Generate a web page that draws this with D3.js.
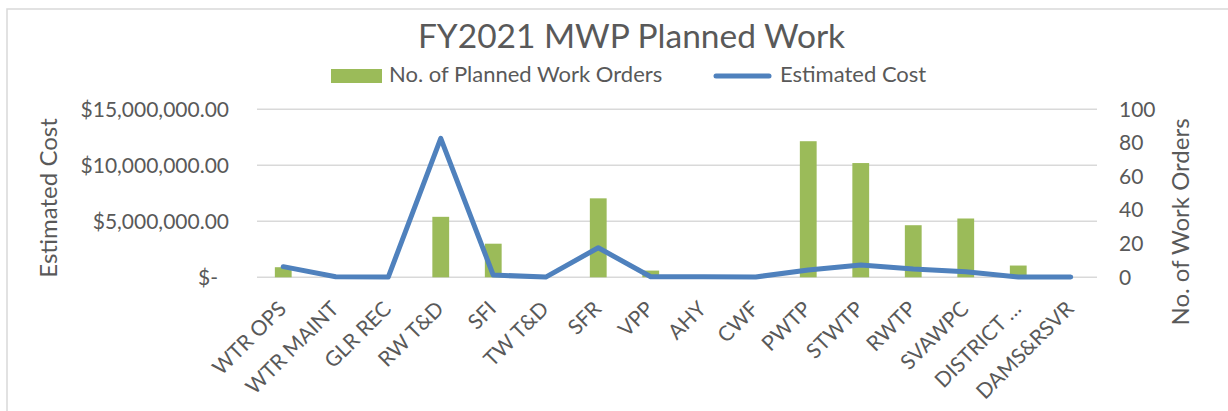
<!DOCTYPE html>
<html>
<head>
<meta charset="utf-8">
<script src="https://cdn.jsdelivr.net/npm/d3@7"></script>
<style>
  body { margin: 0; background: #fff; }
  svg text { font-family: Lato, "Open Sans", sans-serif; fill: #595959; }
</style>
</head>
<body>
<div id="chart"></div>
<script>
// ── Data ──────────────────────────────────────────────────────────────────
const categories = ['WTR OPS', 'WTR MAINT', 'GLR REC', 'RW T&D', 'SFI', 'TW T&D', 'SFR', 'VPP',
  'AHY', 'CWF', 'PWTP', 'STWTP', 'RWTP', 'SVAWPC', 'DISTRICT …', 'DAMS&RSVR'];
const workOrders = [6, 0, 0, 36, 20, 0, 47, 4, 0, 0, 81, 68, 31, 35, 7, 0];
const estCost = [950000, 50000, 20000, 12400000, 200000, 20000, 2640000, 50000,
  50000, 30000, 650000, 1100000, 740000, 500000, 30000, 20000];
const costTicks = [0, 5000000, 10000000, 15000000];
const countTicks = [0, 20, 40, 60, 80, 100];

const W = 1228, H = 411;
const GREEN = '#9bbb59', BLUE = '#4f81bd', GRID = '#d9d9d9';
const P = { left: 257, right: 1097, top: 109.3, bottom: 277.3 };

const svg = d3.select('#chart').append('svg').attr('width', W).attr('height', H);

// chart frame (runs off the right and bottom edges)
svg.append('rect')
  .attr('x', 7).attr('y', 9).attr('width', W + 20).attr('height', H + 20)
  .attr('fill', '#fff').attr('stroke', GRID).attr('stroke-width', 1.5);

// ── Scales ────────────────────────────────────────────────────────────────
const x = d3.scaleBand().domain(categories)
  .range([P.left, P.right]).paddingInner(0.68).paddingOuter(0.34);
const yCost = d3.scaleLinear().domain([0, 15000000]).range([P.bottom, P.top]);
const yCount = d3.scaleLinear().domain([0, 100]).range([P.bottom, P.top]);
const cx = c => x(c) + x.bandwidth() / 2;

// ── Grid lines ────────────────────────────────────────────────────────────
svg.append('g')
  .selectAll('line').data(costTicks).join('line')
  .attr('x1', P.left).attr('x2', P.right)
  .attr('y1', d => yCost(d)).attr('y2', d => yCost(d))
  .attr('stroke', GRID).attr('stroke-width', 1.5);

// ── Axes ──────────────────────────────────────────────────────────────────
const money = d3.format('$,.2f');
const left = svg.append('g').attr('transform', `translate(${P.left},0)`)
  .call(d3.axisLeft(yCost).tickValues(costTicks).tickSize(0).tickPadding(28)
    .tickFormat(d => d === 0 ? '$-' : money(d)));
left.select('.domain').remove();
left.selectAll('text').attr('font-size', 21).attr('font-family', null)
  .attr('dx', d => d === 0 ? -11 : 0);

const right = svg.append('g').attr('transform', `translate(${P.right},0)`)
  .call(d3.axisRight(yCount).tickValues(countTicks).tickSize(0).tickPadding(22));
right.select('.domain').remove();
right.selectAll('text').attr('font-size', 21).attr('font-family', null);

const bottom = svg.append('g')
  .call(d3.axisBottom(x).tickSize(0).tickFormat(d => d));
bottom.select('.domain').remove();
bottom.selectAll('.tick').attr('transform', d => `translate(${cx(d) - 1},305)`);
bottom.selectAll('text')
  .attr('font-size', 21).attr('font-family', null)
  .attr('y', 0).attr('dy', '0.35em')
  .attr('text-anchor', 'end')
  .attr('transform', 'rotate(-45)');

// axis titles
svg.append('text')
  .attr('transform', 'translate(49,198) rotate(-90)')
  .attr('text-anchor', 'middle').attr('dy', '0.35em')
  .attr('font-size', 24).text('Estimated Cost');
svg.append('text')
  .attr('transform', 'translate(1181,222) rotate(-90)')
  .attr('text-anchor', 'middle').attr('dy', '0.35em')
  .attr('font-size', 24).text('No. of Work Orders');

// ── Bars (work orders, right axis) ────────────────────────────────────────
svg.append('g')
  .selectAll('rect').data(categories).join('rect')
  .attr('x', d => x(d))
  .attr('width', x.bandwidth())
  .attr('y', (d, i) => yCount(workOrders[i]))
  .attr('height', (d, i) => yCount(0) - yCount(workOrders[i]))
  .attr('fill', GREEN);

// ── Line (estimated cost, left axis) ──────────────────────────────────────
const line = d3.line().x(d => cx(d)).y((d, i) => yCost(estCost[i]));
svg.append('path')
  .datum(categories)
  .attr('d', line)
  .attr('fill', 'none')
  .attr('stroke', BLUE).attr('stroke-width', 5)
  .attr('stroke-linejoin', 'round').attr('stroke-linecap', 'round');

// ── Title & legend ────────────────────────────────────────────────────────
svg.append('text')
  .attr('x', 631.5).attr('y', 48)
  .attr('text-anchor', 'middle').attr('font-size', 33.5)
  .text('FY2021 MWP Planned Work');

const legend = svg.append('g');
legend.append('rect')
  .attr('x', 331).attr('y', 69).attr('width', 51).attr('height', 14)
  .attr('fill', GREEN);
legend.append('text')
  .attr('x', 389).attr('y', 82).attr('font-size', 22)
  .text('No. of Planned Work Orders');
legend.append('line')
  .attr('x1', 716).attr('x2', 769).attr('y1', 76).attr('y2', 76)
  .attr('stroke', BLUE).attr('stroke-width', 5).attr('stroke-linecap', 'round');
legend.append('text')
  .attr('x', 780).attr('y', 82).attr('font-size', 22)
  .text('Estimated Cost');
</script>
</body>
</html>
